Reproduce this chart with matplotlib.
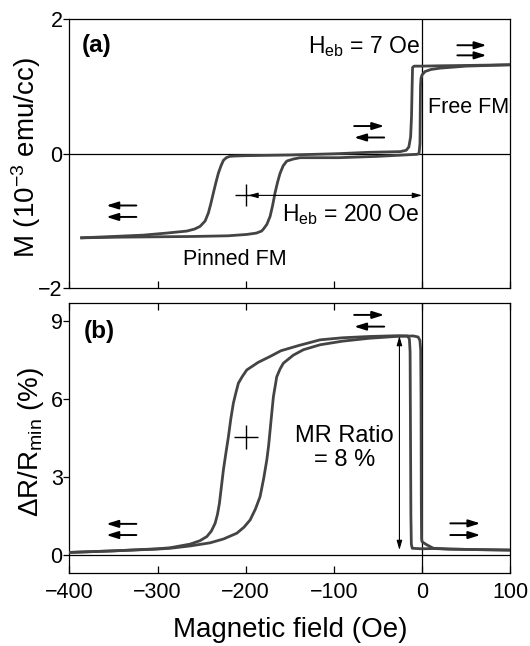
import matplotlib
matplotlib.use("Agg")
import matplotlib.pyplot as plt

plt.rcParams['font.family'] = ['Liberation Sans', 'DejaVu Sans']
plt.rcParams['mathtext.fontset'] = 'custom'
plt.rcParams['mathtext.rm'] = 'Liberation Sans'
plt.rcParams['mathtext.it'] = 'Liberation Sans:italic'
plt.rcParams['mathtext.bf'] = 'Liberation Sans:bold'

# ---------------- data ----------------
# (a) M-H loop, field sweeping down (+100 -> -386 Oe)
m_down_h = [100, 50, 20, 0, -9, -10.8, -11.3, -12, -13, -15, -18, -25, -60, -95, -150, -200,
            -212, -218, -222, -225.3, -228, -231, -234, -236.6, -239.5, -242.3, -246, -251.7,
            -258, -266.8, -290, -316, -350, -386]
m_down = [1.32, 1.31, 1.305, 1.30, 1.30, 1.28, 1.0, 0.55, 0.25, 0.10, 0.05, 0.03, 0.02, 0.0, -0.02, -0.03,
          -0.035, -0.04, -0.06, -0.10, -0.18, -0.29, -0.44, -0.58, -0.74, -0.88, -1.0, -1.08,
          -1.12, -1.15, -1.18, -1.21, -1.23, -1.25]

# (a) field sweeping up (-386 -> +100 Oe)
m_up_h = [-386, -340, -300, -259.3, -220, -198.8, -188, -182, -179.9, -176, -172.3, -169.5, -166.7,
          -163.8, -161, -157.5, -153.4, -146, -138.3, -94.6, -50, -6.3, -3.5, -2.4, -2.1, -1.8,
          -1.2, 0, 3.4, 10, 20.4, 50, 100]
m_up = [-1.25, -1.24, -1.235, -1.23, -1.22, -1.20, -1.18, -1.15, -1.12, -1.05, -0.93, -0.77, -0.58,
        -0.42, -0.29, -0.18, -0.11, -0.08, -0.06, -0.06, -0.04, -0.01, 0.0, 0.15, 0.6, 1.0,
        1.12, 1.17, 1.22, 1.25, 1.27, 1.30, 1.32]

# (b) MR loop, field sweeping down (+100 -> -400 Oe)
r_down_h = [100, 60, 30, 12.8, 0, -6, -11.2, -12.2, -12.7, -13.2, -13.6, -14.4, -16.5, -27, -59,
            -90, -115.6, -140, -160, -172.3, -186, -198.8, -204, -208.3, -211, -214, -217,
            -219.6, -222.5, -225.3, -227.6, -229.8, -232, -234.7, -239, -244.1, -252, -263,
            -285.7, -300, -350, -400]
r_down = [0.17, 0.19, 0.21, 0.23, 0.22, 0.23, 0.24, 0.4, 1.5, 5.0, 7.8, 8.3, 8.42, 8.43, 8.40,
          8.35, 8.27, 8.05, 7.85, 7.63, 7.40, 7.11, 6.85, 6.60, 6.25, 5.83, 5.2,
          4.54, 3.9, 3.26, 2.6, 1.97, 1.55, 1.20, 0.9, 0.69, 0.53, 0.40,
          0.26, 0.22, 0.14, 0.08]

# (b) field sweeping up (-400 -> +100 Oe)
r_up_h = [-400, -350, -300, -285.7, -263, -240.4, -225, -210.1, -202, -195, -189, -183.7, -179.5,
          -176.1, -174, -172.3, -170.3, -168.6, -166.5, -164.8, -161, -157.3, -146, -134.5,
          -115.6, -90, -60, -30, -10, -4.5, -2.5, -1.6, -1.2, -0.9, -0.6, 0, 5, 12.8, 30, 60, 100]
r_up = [0.08, 0.14, 0.21, 0.24, 0.33, 0.45, 0.6, 0.82, 1.05, 1.33, 1.75, 2.23, 2.95,
        3.64, 4.2, 4.80, 5.5, 6.08, 6.5, 6.85, 7.15, 7.37, 7.68, 7.89,
        8.08, 8.22, 8.33, 8.40, 8.42, 8.38, 8.25, 7.9, 6.0, 2.0, 0.6, 0.49, 0.38, 0.24, 0.21, 0.19, 0.17]

x_ticks = [-400, -300, -200, -100, 0, 100]
m_ticks = [-2, 0, 2]
r_ticks = [0, 3, 6, 9]

# spin-configuration arrows: (x_tail, x_tip, y) for each arrow
a_arrows = [(40, 73, 1.61), (40, 73, 1.46),
            (-77, -43, 0.41), (-43, -77, 0.24),
            (-324, -358, -0.77), (-324, -358, -0.94)]
b_arrows = [(-77, -43, 9.23), (-43, -77, 8.78),
            (-324, -358, 1.18), (-324, -358, 0.75),
            (32, 66, 1.20), (32, 66, 0.75)]

curve_c = '#444444'
fs_tick = 15.5
fs_label = 20

fig = plt.figure(figsize=(5.3, 6.46), dpi=100)
ax1 = fig.add_axes([0.1308, 0.5537, 0.832, 0.4169])
ax2 = fig.add_axes([0.1308, 0.1135, 0.832, 0.4179])


def style(ax, yticks, ylim, top_ticks):
    ax.set_xlim(-400, 100)
    ax.set_ylim(*ylim)
    ax.set_xticks(x_ticks)
    ax.set_yticks(yticks)
    ax.axhline(0, color='black', lw=0.9, zorder=1)
    ax.axvline(0, color='black', lw=0.9, zorder=1)
    for s in ax.spines.values():
        s.set_linewidth(0.9)
    ax.tick_params(axis='x', direction='in', length=5, width=0.9, top=top_ticks,
                   labelsize=fs_tick, pad=7)
    ax.tick_params(axis='y', direction='out', length=4.3, width=0.9,
                   labelsize=fs_tick, pad=0.5)


def arrow(ax, x0, x1, y, style_='-|>,head_length=0.7,head_width=0.22', lw=1.4, ms=10):
    ax.annotate('', xy=(x1, y), xytext=(x0, y),
                arrowprops=dict(arrowstyle=style_, color='black', lw=lw,
                                shrinkA=0, shrinkB=0, mutation_scale=ms))


# ---------------- panel (a) ----------------
style(ax1, m_ticks, (-2, 2), False)
ax1.tick_params(axis='x', labelbottom=False)
ax1.plot(m_down_h, m_down, color=curve_c, lw=2.0, solid_joinstyle='round', zorder=3)
ax1.plot(m_up_h, m_up, color=curve_c, lw=2.0, solid_joinstyle='round', zorder=3)
for x0, x1, y in a_arrows:
    arrow(ax1, x0, x1, y)

ax1.annotate('', xy=(-197, -0.62), xytext=(0, -0.62),
             arrowprops=dict(arrowstyle='<|-|>,head_length=0.7,head_width=0.2', color='black',
                             lw=0.8, shrinkA=0, shrinkB=0, mutation_scale=8))
ax1.plot(-200, -0.62, marker='+', ms=16, mew=1.0, color='black')

ax1.text(0.028, 0.903, '(a)', transform=ax1.transAxes, fontsize=17.5, fontweight='bold',
         ha='left', va='center')
ax1.text(-3, 1.49, r'H$_{\rm eb}$ = 7 Oe', fontsize=16.5, ha='right', va='baseline')
ax1.text(7, 0.60, 'Free FM', fontsize=15.5, ha='left', va='baseline')
ax1.text(-3, -1.0, r'H$_{\rm eb}$ = 200 Oe', fontsize=16.5, ha='right', va='baseline')
ax1.text(-212, -1.66, 'Pinned FM', fontsize=15.5, ha='center', va='baseline')
ax1.set_ylabel(r'M (10$^{-3}$ emu/cc)', fontsize=fs_label)
ax1.yaxis.set_label_coords(-0.059, 0.486)

# ---------------- panel (b) ----------------
style(ax2, r_ticks, (-0.7, 9.7), True)
ax2.plot(r_down_h, r_down, color=curve_c, lw=2.0, solid_joinstyle='round', zorder=3)
ax2.plot(r_up_h, r_up, color=curve_c, lw=2.0, solid_joinstyle='round', zorder=3)
for x0, x1, y in b_arrows:
    arrow(ax2, x0, x1, y)

ax2.annotate('', xy=(-25.7, 8.42), xytext=(-25.7, 0.17),
             arrowprops=dict(arrowstyle='<|-|>,head_length=0.7,head_width=0.2', color='black',
                             lw=0.8, shrinkA=0, shrinkB=0, mutation_scale=8))
ax2.plot(-200, 4.54, marker='+', ms=17, mew=1.0, color='black')

ax2.text(0.033, 0.895, '(b)', transform=ax2.transAxes, fontsize=17.5, fontweight='bold',
         ha='left', va='center')
ax2.text(-88, 4.1, 'MR Ratio\n= 8 %', fontsize=17, ha='center', va='center',
         linespacing=1.15)
ax2.set_ylabel(r'ΔR/R$_{\rm min}$ (%)', fontsize=fs_label)
ax2.yaxis.set_label_coords(-0.054, 0.485)
ax2.set_xlabel('Magnetic field (Oe)', fontsize=fs_label, labelpad=10)

fig.savefig('out.png', dpi=100)
